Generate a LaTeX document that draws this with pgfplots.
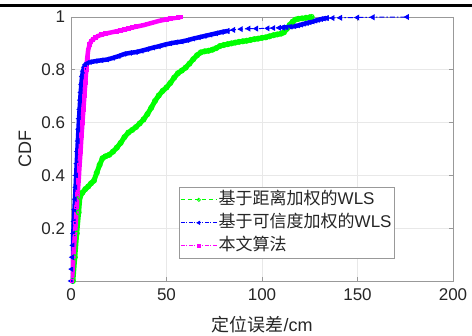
\documentclass[border=0pt]{standalone}
\usepackage{fontspec}
\setmainfont{Liberation Sans}
\newfontfamily\cjk{Noto Sans CJK SC}
\usepackage{pgfplots}
\usepackage{pgfplotstable}
\pgfplotsset{compat=1.18}

\definecolor{cgreen}{rgb}{0,1,0}
\definecolor{cblue}{rgb}{0,0,1}
\definecolor{cmag}{rgb}{1,0,1}
\definecolor{axgray}{rgb}{0.6,0.6,0.6}
\definecolor{txtgray}{rgb}{0.15,0.15,0.15}

\pgfplotstableread{
x y
1.0 0.000
2.0 0.090
3.0 0.180
4.0 0.260
4.7 0.318
6.0 0.335
7.5 0.348
9.0 0.358
10.5 0.370
12.0 0.380
13.5 0.410
15.0 0.440
16.5 0.465
18.0 0.472
20.0 0.478
22.0 0.490
24.0 0.505
26.0 0.523
28.0 0.545
30.0 0.562
32.0 0.572
34.0 0.583
36.0 0.597
38.0 0.612
40.0 0.632
42.0 0.656
44.0 0.682
46.0 0.703
48.0 0.720
50.0 0.733
52.0 0.750
54.0 0.770
56.0 0.787
58.0 0.797
60.0 0.808
62.0 0.823
64.0 0.840
66.0 0.855
68.0 0.866
70.0 0.870
72.0 0.872
74.0 0.876
76.0 0.882
78.0 0.890
80.0 0.894
82.0 0.897
84.0 0.900
86.0 0.903
88.0 0.906
90.0 0.908
92.0 0.910
94.0 0.913
96.0 0.916
98.0 0.918
100.0 0.921
102.0 0.923
104.0 0.927
106.0 0.931
108.0 0.934
110.0 0.937
111.5 0.942
113.0 0.955
114.5 0.970
116.0 0.982
117.5 0.990
119.0 0.993
121.0 0.995
123.0 0.997
125.0 0.999
126.0 1.000
}\greendata

\pgfplotstableread{
x y
0.0 0.000
0.3 0.045
0.6 0.090
0.9 0.135
1.2 0.180
1.5 0.225
1.8 0.270
2.1 0.310
2.4 0.355
2.7 0.400
3.0 0.445
3.3 0.490
3.6 0.530
3.9 0.575
4.2 0.615
4.5 0.650
4.8 0.685
5.1 0.715
5.4 0.745
5.8 0.775
6.3 0.795
6.9 0.810
7.6 0.820
8.5 0.826
10.0 0.829
13.0 0.833
16.0 0.836
19.0 0.839
22.0 0.845
25.0 0.852
28.0 0.860
31.0 0.864
34.0 0.867
37.0 0.872
40.0 0.878
43.0 0.884
46.0 0.889
49.0 0.895
52.0 0.900
55.0 0.904
58.0 0.907
61.0 0.912
64.0 0.918
67.0 0.923
70.0 0.928
73.0 0.933
76.0 0.938
79.0 0.943
82.0 0.947
}\bluedenseA

\pgfplotstableread{
x y
111.0 0.960
113.0 0.961
115.0 0.963
117.0 0.965
119.0 0.968
120.5 0.971
122.0 0.974
123.5 0.977
125.0 0.980
126.5 0.983
128.0 0.986
129.5 0.989
131.0 0.992
132.5 0.994
134.0 0.996
}\bluedenseB

\pgfplotstableread{
x y
82.0 0.947
85.0 0.951
89.0 0.954
93.0 0.956
97.0 0.956
103.0 0.957
106.0 0.958
109.0 0.959
111.0 0.960
}\bluesparseA

\pgfplotstableread{
x y
134.0 0.996
137.0 0.996
141.0 0.997
150.0 0.998
158.0 0.999
176.0 1.000
}\bluesparseB

\pgfplotstableread{
x y
0.5 0.000
1.0 0.060
1.5 0.120
2.0 0.170
2.5 0.220
3.0 0.280
3.5 0.330
4.0 0.380
4.5 0.440
5.0 0.490
5.5 0.550
6.0 0.600
6.5 0.650
7.0 0.700
7.5 0.750
8.0 0.800
8.5 0.845
9.0 0.875
9.7 0.895
10.5 0.908
11.5 0.915
12.8 0.922
14.2 0.928
16.0 0.933
18.0 0.937
20.0 0.940
22.0 0.943
24.0 0.946
26.0 0.949
28.0 0.952
30.0 0.956
32.0 0.960
34.0 0.963
36.0 0.966
38.0 0.969
40.0 0.973
42.0 0.977
44.0 0.981
46.0 0.985
48.0 0.988
50.0 0.991
52.0 0.994
54.0 0.996
56.0 0.998
57.5 1.000
}\magdata

\begin{document}
\begin{tikzpicture}[x=1pt,y=1pt]
\path[use as bounding box] (0,0) rectangle (472,336);
\fill[black] (0,329.3) rectangle (472,332.2);
\begin{axis}[
  at={(71pt,55pt)}, anchor=south west,
  scale only axis, width=382pt, height=264pt,
  xmin=0, xmax=200, ymin=0, ymax=1,
  xtick={0,50,100,150,200},
  ytick={0.2,0.4,0.6,0.8,1},
  /pgf/number format/assume math mode=true,
  tick label style={font=\fontsize{17}{17}\selectfont, text=txtgray},
  xticklabel style={yshift=-4pt},
  yticklabel style={xshift=-2.5pt},
  tick align=inside, major tick length=4pt,
  tick style={axgray, line width=0.6pt},
  axis line style={axgray, line width=0.8pt},
  grid=major,
  major grid style={gray!18, line width=0.6pt},
  xlabel={{\cjk 定位误差}/cm},
  ylabel={CDF},
  label style={font=\fontsize{18}{18}\selectfont, text=txtgray},
  xlabel style={at={(axis description cs:0.5,0)}, anchor=center, yshift=-44pt},
  ylabel style={at={(axis description cs:-0.1204,0.5)}, anchor=center},
  legend style={at={(axis description cs:0.283,0.356)}, anchor=north west,
    draw=axgray, line width=0.6pt, fill=white,
    font=\fontsize{17}{17}\selectfont, text=txtgray,
    inner xsep=1pt, inner ysep=1pt, row sep=0pt,
    nodes={inner xsep=1.5pt, inner ysep=2pt, text height=14pt, text depth=5pt}},
  legend cell align=left,
  legend image code/.code={%
    \draw[mark repeat=2,mark phase=2,#1] plot coordinates {(0pt,0pt) (18pt,0pt) (36pt,0pt)};},
]
% green: distance-weighted WLS
\addplot[cgreen, line width=5pt, line join=round, line cap=round, forget plot] table[x=x,y=y] {\greendata};
\addplot[cgreen, line width=1pt, dash pattern=on 5pt off 3pt, mark=o, mark size=2.4pt,
  mark options={solid, line width=1.2pt}, forget plot] table[x=x,y=y] {\greendata};
% blue: credibility-weighted WLS
\addplot[cblue, line width=4.5pt, line join=round, line cap=round, forget plot] table[x=x,y=y] {\bluedenseA};
\addplot[cblue, line width=4.5pt, line join=round, line cap=round, forget plot] table[x=x,y=y] {\bluedenseB};
\addplot[cblue, line width=1pt, dash pattern=on 5pt off 2pt on 1.5pt off 2pt, mark=triangle*, mark size=2.3pt,
  mark options={solid, rotate=90}, forget plot] table[x=x,y=y] {\bluedenseA};
\addplot[cblue, line width=1pt, dash pattern=on 5pt off 2pt on 1.5pt off 2pt, mark=triangle*, mark size=2.5pt,
  mark options={solid, rotate=90}, forget plot] table[x=x,y=y] {\bluesparseA};
\addplot[cblue, line width=1pt, dash pattern=on 5pt off 2pt on 1.5pt off 2pt, mark=triangle*, mark size=2.3pt,
  mark options={solid, rotate=90}, forget plot] table[x=x,y=y] {\bluedenseB};
\addplot[cblue, line width=1pt, dash pattern=on 5pt off 2pt on 1.5pt off 2pt, mark=triangle*, mark size=2.5pt,
  mark options={solid, rotate=90}, forget plot] table[x=x,y=y] {\bluesparseB};
% magenta: proposed
\addplot[cmag, line width=4.5pt, line join=round, line cap=round, forget plot] table[x=x,y=y] {\magdata};
\addplot[cmag, line width=1pt, mark=square, mark size=1.8pt, mark options={solid}, forget plot] table[x=x,y=y] {\magdata};
% legend entries
\addlegendimage{cgreen, line width=0.8pt, dash pattern=on 4pt off 3pt, mark=o, mark size=1.6pt, mark options={solid, line width=0.8pt}}
\addlegendentry{{\cjk 基于距离加权的}WLS}
\addlegendimage{cblue, line width=0.8pt, dash pattern=on 4pt off 1.5pt on 1pt off 1.5pt, mark=triangle*, mark size=1.8pt, mark options={solid, rotate=90}}
\addlegendentry{{\cjk 基于可信度加权的}WLS}
\addlegendimage{cmag, line width=0.8pt, dash pattern=on 4pt off 1.5pt on 1pt off 1.5pt, mark=square*, mark size=1.3pt, mark options={solid}}
\addlegendentry{{\cjk 本文算法}}
\end{axis}
\end{tikzpicture}
\end{document}
